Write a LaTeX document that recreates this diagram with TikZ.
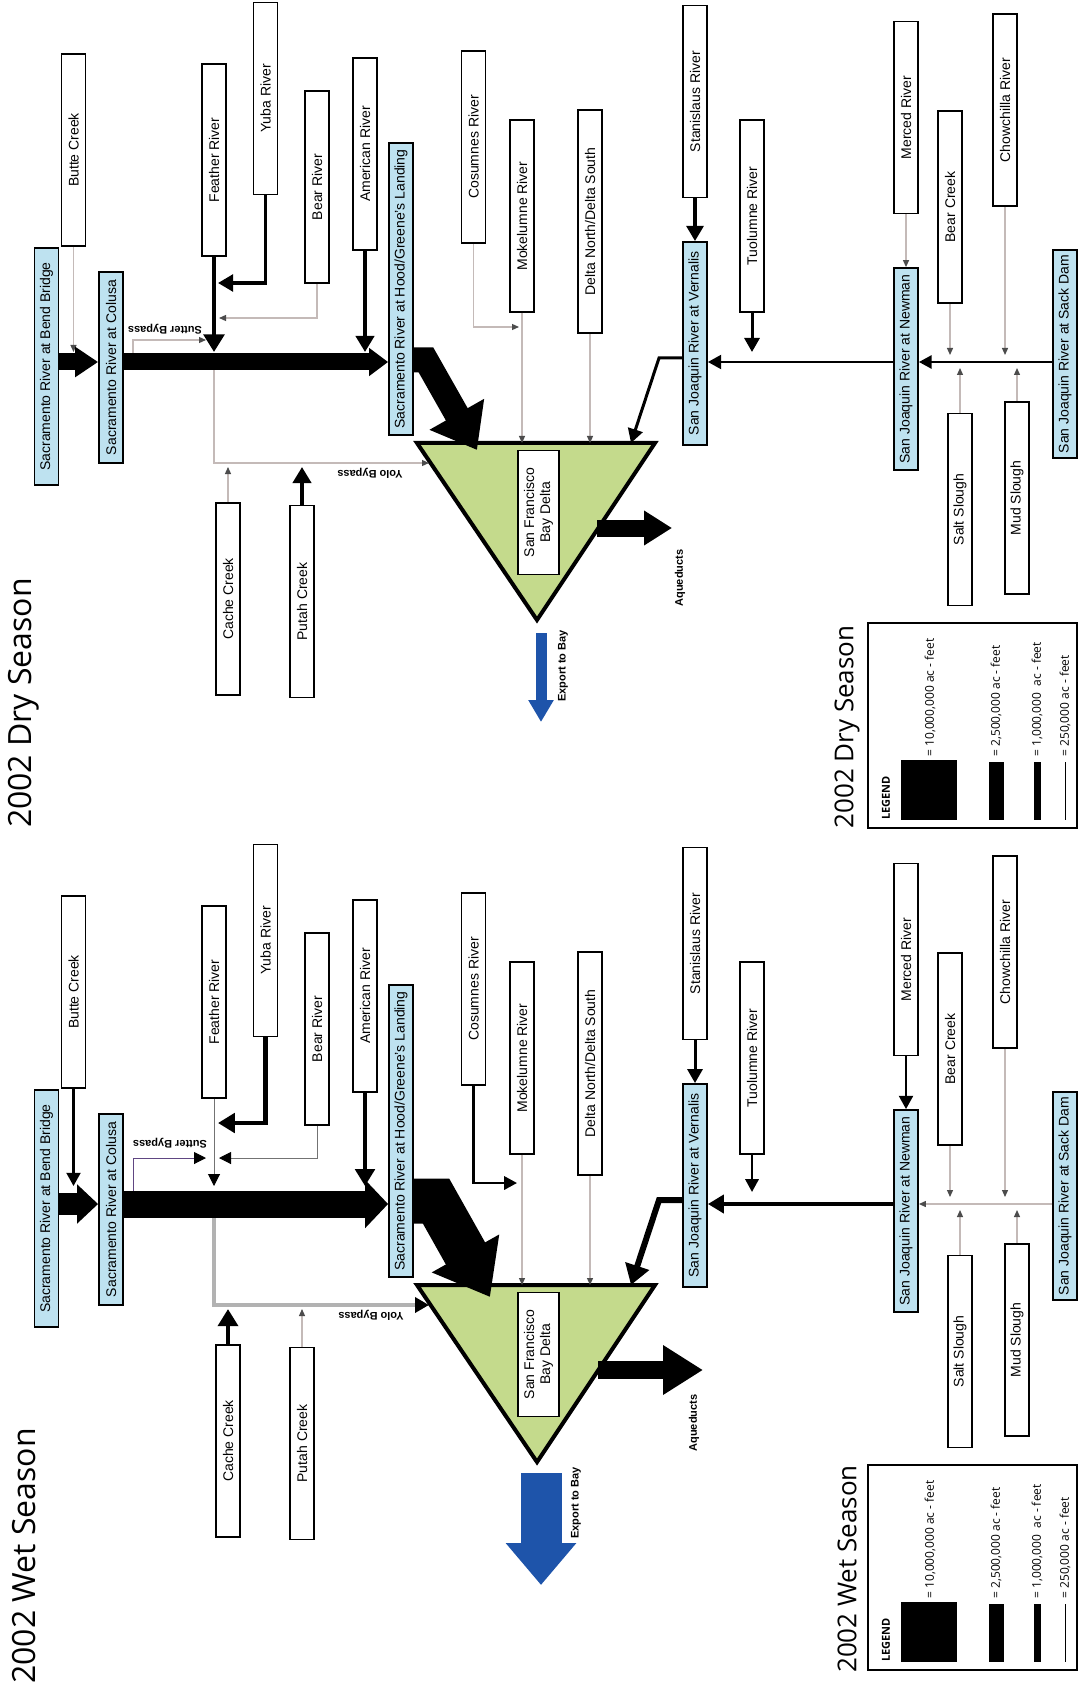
\documentclass[tikz,border=0pt]{standalone}
\usepackage{fontspec}
\setmainfont{Liberation Sans}
\newfontfamily\headfont{Open Sans}
\usetikzlibrary{arrows.meta}

\definecolor{gaugeblue}{RGB}{190,226,240}
\definecolor{deltagreen}{RGB}{196,218,140}
\definecolor{bayblue}{RGB}{30,84,170}
\definecolor{faint}{RGB}{196,186,184}
\definecolor{sutterpurple}{RGB}{96,70,130}

\tikzset{
  river/.style={draw, line width=0.9pt, fill=white, rotate=90, minimum width=96pt,
    minimum height=12pt, inner sep=0pt, font=\fontsize{7}{8}\selectfont},
  gauge/.style={river, fill=gaugeblue},
  hair/.style={draw=faint, line width=0.6pt, -{Triangle[length=3.5pt,width=3pt,color=black!70]}},
  fine/.style={draw=black!55, line width=0.5pt, -{Triangle[length=6pt,width=6pt,color=black]}},
  flow/.style={draw=black, line width=#1, -{Triangle[length=4pt 2,width=3pt 3]}},
  block/.style args={#1/#2/#3}{line width=#1, line join=miter, -{Triangle[length=#2,width=#3]}},
  tag/.style={font=\bfseries\fontsize{5.5}{6}\selectfont, inner sep=0pt},
  keytext/.style={font=\headfont\fontsize{6}{7}\selectfont, rotate=90, anchor=west, inner sep=0pt},
}

% gauges, tributaries and the delta of one season
\newcommand\riverboxes[1]{%
  \node[gauge, minimum width=118.5pt] (#1bend) at (46.5,366.5) {Sacramento River at Bend Bridge};
  \node[gauge, minimum width=95.5pt] (#1colusa) at (111,367.5) {Sacramento River at Colusa};
  \node[gauge, minimum width=146pt] (#1hood) at (401,289) {Sacramento River at Hood/Greene's Landing};
  \node[gauge, minimum width=101.5pt] (#1vern) at (695,343.5) {San Joaquin River at Vernalis};
  \node[gauge, minimum width=101pt] (#1newman) at (906,369) {San Joaquin River at Newman};
  \node[gauge, minimum width=104pt] (#1sack) at (1065,354) {San Joaquin River at Sack Dam};
  \node[river] (#1butte) at (73.5,150) {Butte Creek};
  \node[river] (#1feather) at (214,160) {Feather River};
  \node[river] (#1yuba) at (265.5,98.5) {Yuba River};
  \node[river] (#1bear) at (317,187) {Bear River};
  \node[river] (#1american) at (365,154) {American River};
  \node[river] (#1cosumnes) at (473.5,147) {Cosumnes River};
  \node[river] (#1mokelumne) at (522,216) {Mokelumne River};
  \node[river, minimum width=111.5pt] (#1dns) at (590,221.5) {Delta North/Delta South};
  \node[river] (#1stanislaus) at (695,101.5) {Stanislaus River};
  \node[river] (#1tuolumne) at (752,216) {Tuolumne River};
  \node[river] (#1merced) at (906,117.5) {Merced River};
  \node[river] (#1bearcreek) at (950,207) {Bear Creek};
  \node[river] (#1chowchilla) at (1005,110) {Chowchilla River};
  \node[river] (#1cache) at (228,599) {Cache Creek};
  \node[river] (#1putah) at (302,601.5) {Putah Creek};
  \node[river] (#1salt) at (960,509.5) {Salt Slough};
  \node[river] (#1mud) at (1017,498) {Mud Slough};
  % the delta
  \coordinate (#1tl) at (417,443);
  \coordinate (#1tr) at (655,443);
  \coordinate (#1ap) at (537,620);
  \draw[line width=2pt, fill=deltagreen, line join=miter] (#1tl) -- (#1tr) -- (#1ap) -- cycle;
  \node[river, line width=0.7pt, minimum width=62pt, minimum height=20.5pt, align=center] (#1bay) at (538.5,512.5) {San Francisco\\Bay Delta};
  % junctions
  \coordinate (#1row) at (0,362);
  \coordinate (#1sjtop) at (0,355);
  \coordinate (#1sjbot) at (0,368);
  \coordinate (#1ybot) at (0,467);
  \coordinate (#1yolo) at (429,463);
  \coordinate (#1vrow) at (0,358);
  \coordinate (#1vbend) at (659,358);
  \coordinate (#1vin) at (631,443);
}

% legend of one season
\newcommand\flowkey[2]{%
  \node[rotate=90, inner sep=0pt, font=\headfont\fontsize{13}{15}\selectfont] (#1keytitle) at (847,727) {2002 #2 Season};
  \node[draw, line width=0.8pt, minimum width=104.5pt, minimum height=102.5pt, inner sep=0pt] (#1key) at (972.5,725.5) {};
  \node[rotate=90, anchor=west, inner sep=0pt, font=\headfont\bfseries\fontsize{5.5}{6}\selectfont] (#1keyhead) at (886,820) {LEGEND};
  \fill (901,760) rectangle (957,820);
  \fill (989,762) rectangle (1004,820);
  \fill (1034,762) rectangle (1041,820);
  \draw[line width=0.4pt] (1065,762) -- (1065,820);
  \node[keytext] (#1keya) at (930,757) {= 10,000,000 ac - feet};
  \node[keytext] (#1keyb) at (996,757) {= 2,500,000 ac - feet};
  \node[keytext] (#1keyc) at (1037,757) {= 1,000,000\ \ ac - feet};
  \node[keytext] (#1keyd) at (1065,757) {= 250,000 ac - feet};
}

\begin{document}
\begin{tikzpicture}[x=0.5pt, y=-0.5pt]
  \fill[white] (0,0) rectangle (1080,1684);
  \useasboundingbox (0,0) rectangle (1080,1684);

  % ---- dry season ----
  \begin{scope}
    \riverboxes{d}
    \node[rotate=90, inner sep=0pt, font=\headfont\fontsize{16}{18}\selectfont] (dtitle) at (24,703) {2002 Dry Season};
    \flowkey{d}{Dry}
    \coordinate (dtop) at (0,352);
    \coordinate (dsut) at (133,362);
    \coordinate (dsutend) at (206,340);
    \coordinate (dyubaj) at (218,283);
    \coordinate (dbearj) at (219,318);
    \coordinate (dcosj) at (519,327);
    \coordinate (dhrow) at (0,360);
    \coordinate (dhbend) at (426,360);
    \coordinate (dhin) at (477,450);

    \draw[hair] (dfeather.west |- drow) |- (dyolo);
    \draw[hair] (dbutte.west) -- (dbutte.west |- dtop);
    \draw[flow=2.4pt] (dfeather.west) -- (dfeather.west |- dtop);
    \draw[flow=1.8pt] (dyuba.west) |- (dyubaj);
    \draw[hair] (dbear.west) |- (dbearj);
    \draw[hair] (dsut) |- (dsutend);
    \draw[flow=2pt] (damerican.west) -- (damerican.west |- dtop);
    \draw[hair] (dcosumnes.west) |- (dcosj);
    \draw[hair] (dmokelumne.west) -- (dmokelumne.west |- dtl);
    \draw[hair] (ddns.west) -- (ddns.west |- dtl);
    \draw[hair] (dcache.east) -- (dcache.east |- dybot);
    \draw[flow=2pt] (dputah.east) -- (dputah.east |- dybot);

    \draw[flow=1.8pt] (dstanislaus.west) -- (dvern.east);
    \draw[flow=1.5pt] (dtuolumne.west) -- (dtuolumne.west |- dtop);
    \draw[hair] (dmerced.west) -- (dnewman.east);
    \draw[hair] (dbearcreek.west) -- (dbearcreek.west |- dsjtop);
    \draw[hair] (dchowchilla.west) -- (dchowchilla.west |- dsjtop);
    \draw[hair] (dsalt.east) -- (dsalt.east |- dsjbot);
    \draw[hair] (dmud.east) -- (dmud.east |- dsjbot);
    \draw[flow=1.2pt] (dsack.north |- drow) -- (dnewman.south |- drow);
    \draw[flow=1.3pt] (dnewman.north |- drow) -- (dvern.south |- drow);
    \draw[flow=1.5pt] (dvern.north |- dvrow) -- (dvbend) -- (dvin);

    \draw[block={8.5pt/11.5pt/14.5pt}] (dbend.south |- drow) -- (dcolusa.north |- drow);
    \draw[block={8.5pt/9.5pt/13.5pt}] (dcolusa.south |- drow) -- (dhood.north |- drow);
    \draw[block={12.5pt/20.5pt/30pt}] (dhood.south |- dhrow) -- (dhbend) -- (dhin);
    \coordinate (daq) at (597,528);
    \coordinate (daqend) at (672,528);
    \draw[block={8.5pt/14pt/16.5pt}] (daq) -- (daqend);
    \coordinate (dex) at (541,633);
    \coordinate (dexend) at (541,722);
    \draw[block={5.5pt/11pt/12pt}, bayblue] (dex) -- (dexend);

    \node[tag, rotate=180] (dsutterlabel) at (165,329) {Sutter Bypass};
    \node[tag, rotate=180] (dyololabel) at (370,473) {Yolo Bypass};
    \node[tag, rotate=90] (daqlabel) at (680,578) {Aqueducts};
    \node[tag, rotate=90] (dexlabel) at (563,666) {Export to Bay};
  \end{scope}

  % ---- wet season ----
  \begin{scope}[yshift=-421pt]
    \riverboxes{w}
    \node[rotate=90, inner sep=0pt, font=\headfont\fontsize{16}{18}\selectfont] (wtitle) at (24,714) {2002 Wet Season};
    \flowkey{w}{Wet}
    \coordinate (wtop) at (0,344);
    \coordinate (wsut) at (133,362);
    \coordinate (wsutend) at (206,316);
    \coordinate (wyubaj) at (218,281);
    \coordinate (wbearj) at (219,316);
    \coordinate (wcosj) at (517,341);
    \coordinate (whrow) at (0,359);
    \coordinate (whbend) at (436,359);
    \coordinate (whin) at (490,455);

    \draw[draw=black!30, line width=2.4pt, -{Triangle[length=7pt,width=7.5pt,color=black]}] (wfeather.west |- wrow) |- (wyolo);
    \draw[flow=1.3pt] (wbutte.west) -- (wbutte.west |- wtop);
    \draw[fine] (wfeather.west) -- (wfeather.west |- wtop);
    \draw[flow=2.2pt] (wyuba.west) |- (wyubaj);
    \draw[fine] (wbear.west) |- (wbearj);
    \draw[fine, draw=sutterpurple] (wsut) |- (wsutend);
    \draw[flow=2.2pt] (wamerican.west) -- (wamerican.west |- wtop);
    \draw[flow=1.2pt] (wcosumnes.west) |- (wcosj);
    \draw[hair] (wmokelumne.west) -- (wmokelumne.west |- wtl);
    \draw[hair] (wdns.west) -- (wdns.west |- wtl);
    \draw[flow=2.3pt] (wcache.east) -- (wcache.east |- wybot);
    \draw[hair] (wputah.east) -- (wputah.east |- wybot);

    \draw[flow=1.5pt] (wstanislaus.west) -- (wvern.east);
    \draw[flow=1.2pt] (wtuolumne.west) -- (wtuolumne.west |- 0,350);
    \draw[flow=1.3pt] (wmerced.west) -- (wnewman.east);
    \draw[hair] (wbearcreek.west) -- (wbearcreek.west |- wsjtop);
    \draw[hair] (wchowchilla.west) -- (wchowchilla.west |- wsjtop);
    \draw[hair] (wsalt.east) -- (wsalt.east |- wsjbot);
    \draw[hair] (wmud.east) -- (wmud.east |- wsjbot);
    \draw[hair] (wsack.north |- wrow) -- (wnewman.south |- wrow);
    \draw[flow=2pt] (wnewman.north |- wrow) -- (wvern.south |- wrow);
    \draw[flow=3pt, line join=miter] (wvern.north |- wvrow) -- (wvbend) -- (wvin);

    \draw[block={11pt/10.5pt/19pt}] (wbend.south |- wrow) -- (wcolusa.north |- wrow);
    \draw[block={13.5pt/11.5pt/23.5pt}] (wcolusa.south |- wrow) -- (whood.north |- wrow);
    \draw[block={22.5pt/25pt/37pt}] (whood.south |- whrow) -- (whbend) -- (whin);
    \coordinate (waq) at (598,528);
    \coordinate (waqend) at (703,528);
    \draw[block={9pt/20pt/23.5pt}] (waq) -- (waqend);
    \coordinate (wex) at (541,631);
    \coordinate (wexend) at (541,743);
    \draw[block={20.5pt/21pt/34pt}, bayblue] (wex) -- (wexend);

    \node[tag, rotate=180] (wsutterlabel) at (170,301) {Sutter Bypass};
    \node[tag, rotate=180] (wyololabel) at (371,473) {Yolo Bypass};
    \node[tag, rotate=90] (waqlabel) at (694,581) {Aqueducts};
    \node[tag, rotate=90] (wexlabel) at (576,661) {Export to Bay};
  \end{scope}
\end{tikzpicture}
\end{document}
